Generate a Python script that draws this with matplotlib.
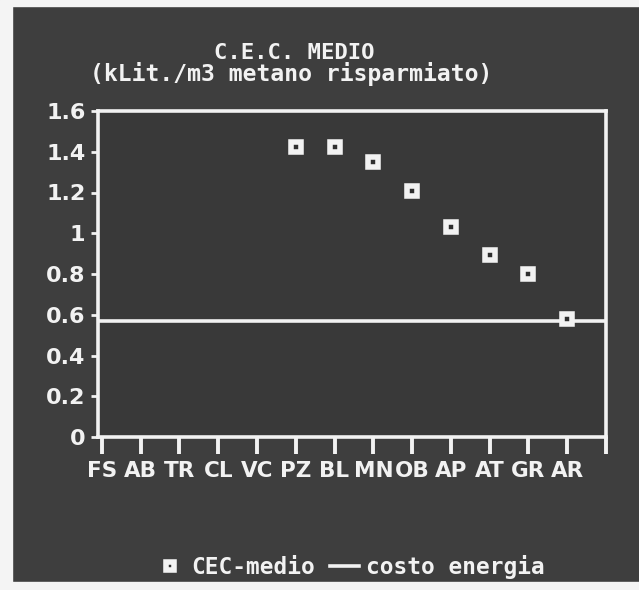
import matplotlib

matplotlib.use("Agg")
import matplotlib.pyplot as plt
from matplotlib.patches import Rectangle

# data
zones = ["FS", "AB", "TR", "CL", "VC", "PZ", "BL", "MN", "OB", "AP", "AT", "GR", "AR"]
cec_zones = ["PZ", "BL", "MN", "OB", "AP", "AT", "GR", "AR"]
cec_medio = [1.425, 1.425, 1.35, 1.205, 1.03, 0.895, 0.80, 0.58]
costo_energia = 0.57
y_ticks = [0, 0.2, 0.4, 0.6, 0.8, 1.0, 1.2, 1.4, 1.6]
y_tick_labels = ["0", "0.2", "0.4", "0.6", "0.8", "1", "1.2", "1.4", "1.6"]

BG = "#3e3e3e"
FG = "#f2f2f2"
MONO = "DejaVu Sans Mono"

fig = plt.figure(figsize=(6.39, 5.90), dpi=100)
fig.patch.set_facecolor(BG)

# white paper edges of the scan
fig.add_artist(Rectangle((0, 0), 12 / 639, 1, transform=fig.transFigure, color="#f4f4f4", zorder=0))
fig.add_artist(Rectangle((0, 1 - 6 / 590), 1, 6 / 590, transform=fig.transFigure, color="#f4f4f4", zorder=0))
fig.add_artist(Rectangle((0, 0), 1, 8 / 590, transform=fig.transFigure, color="#f4f4f4", zorder=0))

ax = fig.add_axes([98 / 639, 153 / 590, 508 / 639, 326 / 590])
ax.set_facecolor("#393939")

x_pos = [zones.index(z) for z in cec_zones]
ax.plot(x_pos, cec_medio, linestyle="none", marker="s", markersize=7,
        markerfacecolor="#2e2e2e", markeredgecolor=FG, markeredgewidth=4,
        label="CEC-medio", zorder=3, clip_on=False)
ax.axhline(costo_energia, color=FG, linewidth=2.6, label="costo energia")

ax.set_xlim(-0.1, 13)
ax.set_ylim(0, 1.6)
ax.set_xticks(range(len(zones) + 1))
ax.set_xticklabels(zones + [""])
ax.set_yticks(y_ticks)
ax.set_yticklabels(y_tick_labels)

for side in ["left", "right", "top", "bottom"]:
    ax.spines[side].set_color(FG)
    ax.spines[side].set_linewidth(2.6)

ax.tick_params(axis="x", direction="out", length=12, width=2.8, color=FG, pad=5,
               labelcolor=FG, labelsize=15.5)
ax.tick_params(axis="y", direction="out", length=5, width=2, color=FG, pad=4,
               labelcolor=FG, labelsize=16)
for lab in ax.get_xticklabels() + ax.get_yticklabels():
    lab.set_fontweight("bold")

fig.text(294 / 639, 1 - 53 / 590, "C.E.C. MEDIO", ha="center", va="center",
         color=FG, fontsize=16, fontweight="bold", family=MONO)
fig.text(291 / 639, 1 - 74 / 590, "(kLit./m3 metano risparmiato)", ha="center", va="center",
         color=FG, fontsize=16.6, fontweight="bold", family=MONO)

leg = ax.legend(loc="center", bbox_to_anchor=(350 / 639, 1 - 567 / 590),
                bbox_transform=fig.transFigure, ncol=2, frameon=False,
                handlelength=1.25, handletextpad=0.3, columnspacing=0.7,
                markerscale=0.75,
                prop={"family": MONO, "weight": "bold", "size": 16.4})
for txt in leg.get_texts():
    txt.set_color(FG)

fig.savefig("out.png", dpi=100, facecolor=fig.get_facecolor())
